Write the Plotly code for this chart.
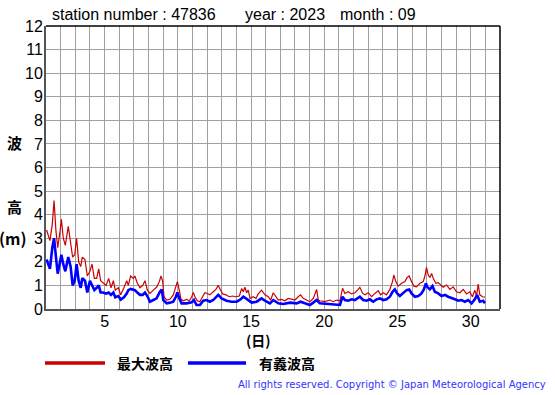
import plotly.graph_objects as go

# ---- data (day of month, wave height in m) ----
t_max = [1.04, 1.27, 1.43, 1.55, 1.68, 1.80, 1.96, 2.05, 2.18, 2.32, 2.52, 2.68, 2.82, 2.96, 3.09,
         3.23, 3.37, 3.48, 3.66, 3.82, 4.00, 4.14, 4.30, 4.46, 4.60, 4.73, 4.91, 5.10, 5.28, 5.44,
         5.60, 5.73, 5.94, 6.10, 6.32, 6.51, 6.62, 6.78, 6.96, 7.07, 7.23, 7.42, 7.60, 7.76, 7.92,
         8.10, 8.33, 8.55, 8.74, 8.85, 8.96, 9.06, 9.24, 9.46, 9.69, 9.87, 9.97, 10.10, 10.22, 10.37,
         10.60, 10.78, 10.94, 11.06, 11.17, 11.33, 11.51, 11.69, 11.85, 12.01, 12.19, 12.42, 12.60,
         12.76, 12.88, 13.06, 13.29, 13.51, 13.74, 13.97, 14.20, 14.36, 14.47, 14.58, 14.70, 14.81,
         14.93, 15.15, 15.34, 15.49, 15.72, 15.95, 16.18, 16.34, 16.52, 16.70, 16.86, 17.09, 17.31,
         17.54, 17.77, 18.00, 18.22, 18.38, 18.56, 18.79, 19.02, 19.25, 19.48, 19.59,
         19.70, 20.04, 20.39, 20.61, 20.84, 21.07, 21.25, 21.41, 21.64, 21.86, 22.09, 22.32, 22.43,
         22.62, 22.78, 23.00, 23.23, 23.46, 23.69, 23.84, 24.03, 24.25, 24.48, 24.66, 24.75, 24.89,
         25.05, 25.28, 25.51, 25.66, 25.80, 25.96, 26.12, 26.30, 26.53, 26.76, 26.89, 26.98, 27.10,
         27.21, 27.33, 27.44, 27.62, 27.78, 27.94, 28.12, 28.35, 28.58, 28.80, 29.03, 29.26, 29.49,
         29.72, 29.94, 30.12, 30.28, 30.40, 30.51, 30.62, 30.81, 30.97]
h_max = [3.35, 2.9, 3.6, 4.6, 3.3, 2.6, 3.3, 3.8, 3.0, 2.7, 3.5, 2.9, 2.2, 2.3, 3.0,
         2.0, 1.8, 2.2, 2.1, 1.4, 1.6, 1.9, 1.3, 1.3, 1.7, 1.2, 1.1, 1.0, 1.3, 0.9,
         1.2, 0.8, 0.9, 0.6, 0.9, 1.2, 1.0, 1.4, 1.3, 1.4, 1.1, 0.9, 1.0, 1.2, 0.8,
         0.66, 0.8, 0.92, 1.16, 1.4, 1.2, 0.52, 0.38, 0.41, 0.6, 0.95, 1.16, 0.8, 0.41, 0.35,
         0.41, 0.35, 0.5, 0.7, 0.52, 0.35, 0.31, 0.52, 0.69, 0.66, 0.6, 0.73, 0.83,
         1.0, 0.83, 0.64, 0.6, 0.52, 0.55, 0.52, 0.55, 0.87, 0.73, 0.92, 0.69, 0.8,
         0.45, 0.52, 0.45, 0.64, 0.8, 0.6, 0.52, 0.38, 0.69, 0.55, 0.38, 0.41, 0.35,
         0.45, 0.41, 0.38, 0.52, 0.6, 0.45, 0.38, 0.31, 0.45, 0.83, 0.38,
         0.35, 0.31, 0.38, 0.31, 0.38, 0.35, 0.88, 0.66, 0.73, 0.64, 0.69, 0.83, 0.92,
         0.66, 0.6, 0.69, 0.52, 0.66, 0.78, 0.6, 0.69, 0.6, 0.83, 1.16, 1.44, 1.16,
         0.97, 1.09, 1.16, 1.34, 1.4, 1.16, 0.97, 0.94, 1.09, 1.16, 1.44, 1.77, 1.44,
         1.34, 1.51, 1.3, 1.09, 1.12, 1.02, 0.92, 1.02, 0.83, 0.94, 0.73, 0.69, 0.83,
         0.64, 0.73, 0.52, 0.8, 0.55, 1.06, 0.6, 0.52, 0.5]

t_sig = [1.04, 1.27, 1.43, 1.55, 1.68, 1.80, 1.96, 2.05, 2.18, 2.32, 2.52, 2.68, 2.82, 2.96, 3.09,
         3.23, 3.37, 3.48, 3.66, 3.82, 4.00, 4.14, 4.30, 4.46, 4.60, 4.73, 4.91, 5.10, 5.28, 5.44,
         5.60, 5.73, 5.94, 6.10, 6.32, 6.51, 6.62, 6.78, 6.96, 7.07, 7.23, 7.42, 7.60, 7.76, 7.92,
         8.10, 8.33, 8.55, 8.78, 8.90, 9.01, 9.24, 9.46, 9.69, 9.87, 9.97, 10.10, 10.26, 10.60,
         10.94, 11.10, 11.28, 11.51, 11.74, 11.97, 12.19, 12.42, 12.65, 12.76, 12.99, 13.33, 13.67,
         14.02, 14.29, 14.47, 14.65, 14.81, 15.04, 15.38, 15.72, 15.95, 16.29, 16.52, 16.86, 17.20,
         17.66, 18.11, 18.38, 18.68, 19.02, 19.25, 19.48,
         19.70, 20.16, 20.61, 21.07, 21.25, 21.41, 21.64, 21.86, 22.09, 22.32, 22.43, 22.66, 22.89,
         23.12, 23.34, 23.57, 23.80, 24.03, 24.25, 24.48, 24.66, 24.82, 24.98, 25.16, 25.39, 25.62,
         25.80, 25.96, 26.19, 26.42, 26.64, 26.80, 26.94, 27.03, 27.21, 27.39, 27.55, 27.78, 28.01,
         28.24, 28.46, 28.69, 28.92, 29.15, 29.37, 29.60, 29.83, 30.06, 30.28, 30.44, 30.62, 30.85,
         30.97]
h_sig = [2.1, 1.7, 2.6, 3.0, 2.2, 1.5, 2.0, 2.3, 1.9, 1.6, 2.2, 1.8, 1.0, 1.2, 1.9,
         1.2, 0.9, 1.3, 1.2, 0.7, 1.2, 1.0, 0.8, 0.9, 1.0, 0.7, 0.7, 0.65, 0.7, 0.6,
         0.7, 0.5, 0.55, 0.4, 0.5, 0.65, 0.8, 0.85, 0.8, 0.8, 0.7, 0.6, 0.6, 0.7, 0.55,
         0.31, 0.38, 0.45, 0.73, 0.83, 0.38, 0.24, 0.27, 0.31, 0.52, 0.7, 0.45, 0.24, 0.24,
         0.28, 0.38, 0.17, 0.17, 0.35, 0.38, 0.31, 0.38, 0.52, 0.6, 0.45, 0.35, 0.31,
         0.31, 0.41, 0.52, 0.45, 0.38, 0.27, 0.31, 0.45, 0.35, 0.24, 0.38, 0.24, 0.21,
         0.27, 0.24, 0.31, 0.24, 0.17, 0.27, 0.38,
         0.24, 0.21, 0.21, 0.17, 0.52, 0.38, 0.35, 0.41, 0.38, 0.5, 0.52, 0.38, 0.35,
         0.41, 0.31, 0.41, 0.45, 0.38, 0.41, 0.52, 0.73, 0.83, 0.66, 0.55, 0.66, 0.8,
         0.83, 0.66, 0.52, 0.55, 0.66, 0.83, 1.09, 0.94, 0.83, 0.97, 0.73, 0.66, 0.55,
         0.6, 0.52, 0.45, 0.41, 0.35, 0.38, 0.31, 0.38, 0.24, 0.41, 0.6, 0.31, 0.35,
         0.24]

x_ticks = [5, 10, 15, 20, 25, 30]
y_ticks = list(range(0, 13))
name_max = "最大波高"
name_sig = "有義波高"

RED = "#cc0000"
BLUE = "#0000ff"
TXT = "Liberation Sans, Arial, sans-serif"
CJK = "Noto Sans CJK JP"

fig = go.Figure()
fig.add_trace(go.Scatter(x=t_max, y=h_max, mode="lines", name=name_max,
                         line=dict(color=RED, width=1.2), showlegend=False))
fig.add_trace(go.Scatter(x=t_sig, y=h_sig, mode="lines", name=name_sig,
                         line=dict(color=BLUE, width=2.6), showlegend=False))

W, H = 555, 395
L, R, T, B = 46, 55, 26, 86
pw, ph = W - L - R, H - T - B


def px(x):
    return (x - L) / pw


def py(y):
    return (H - B - y) / ph


fig.update_layout(
    width=W, height=H,
    margin=dict(l=L, r=R, t=T, b=B, pad=0),
    paper_bgcolor="white", plot_bgcolor="white",
    xaxis=dict(range=[1, 32], tickvals=x_ticks, showgrid=True, gridcolor="#a0a0a0", gridwidth=1,
               minor=dict(dtick=1, tick0=1, showgrid=True, gridcolor="#a0a0a0", gridwidth=1),
               showline=True, linecolor="#555555", linewidth=2, zeroline=False, ticks="",
               ticklabelstandoff=-3,
               tickfont=dict(family=TXT, size=16, color="black"), fixedrange=True),
    yaxis=dict(range=[0, 12], tickvals=y_ticks, showgrid=True, gridcolor="#a0a0a0", gridwidth=1,
               showline=True, linecolor="#555555", linewidth=2, zeroline=False, ticks="",
               ticklabelstandoff=-2,
               tickfont=dict(family=TXT, size=16, color="black"), fixedrange=True),
    shapes=[
        dict(type="line", xref="paper", yref="paper", x0=0, x1=1, y0=1, y1=1,
             line=dict(color="black", width=1.5)),
        dict(type="line", xref="paper", yref="paper", x0=1, x1=1, y0=0, y1=1,
             line=dict(color="black", width=1.5)),
        dict(type="line", xref="paper", yref="paper", x0=px(45), x1=px(105), y0=py(363), y1=py(363),
             line=dict(color=RED, width=3.5)),
        dict(type="line", xref="paper", yref="paper", x0=px(188), x1=px(246), y0=py(363), y1=py(363),
             line=dict(color=BLUE, width=3.5)),
    ],
)

ann = [
    dict(text="station number : 47836", x=px(50), y=py(15), xanchor="left",
         font=dict(family=TXT, size=16, color="black")),
    dict(text="year : 2023", x=px(243), y=py(15), xanchor="left",
         font=dict(family=TXT, size=16, color="black")),
    dict(text="month : 09", x=px(338), y=py(15), xanchor="left",
         font=dict(family=TXT, size=16, color="black")),
    dict(text="<b>波</b>", x=px(14), y=py(142), xanchor="center",
         font=dict(family=CJK, size=15, color="black")),
    dict(text="<b>高</b>", x=px(14), y=py(206), xanchor="center",
         font=dict(family=CJK, size=15, color="black")),
    dict(text="<b>(m)</b>", x=px(13), y=py(238), xanchor="center",
         font=dict(family=CJK, size=16, color="black")),
    dict(text="<b>(日)</b>", x=px(258), y=py(339.5), xanchor="center",
         font=dict(family=CJK, size=14, color="black")),
    dict(text="<b>" + name_max + "</b>", x=px(115), y=py(363), xanchor="left",
         font=dict(family=CJK, size=14, color="black")),
    dict(text="<b>" + name_sig + "</b>", x=px(257), y=py(363), xanchor="left",
         font=dict(family=CJK, size=14, color="black")),
    dict(text="All rights reserved. Copyright © Japan Meteorological Agency", x=px(548), y=py(384),
         xanchor="right", font=dict(family="DejaVu Sans, Verdana, sans-serif", size=10, color="#3333ff")),
]
for a in ann:
    a.update(xref="paper", yref="paper", yanchor="middle", showarrow=False)
fig.update_layout(annotations=ann)

fig.write_html("out.html", config={"displayModeBar": False},
               post_script="document.body.style.margin='0px';document.body.style.overflow='hidden';")
